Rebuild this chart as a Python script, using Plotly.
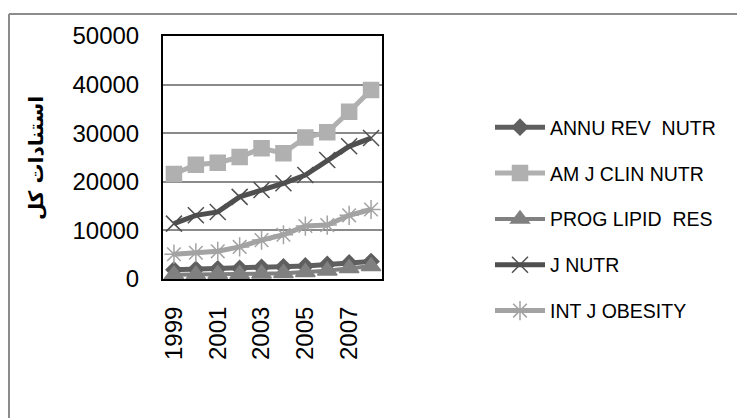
import plotly.graph_objects as go

years = [1999, 2000, 2001, 2002, 2003, 2004, 2005, 2006, 2007, 2008]
annu_rev_nutr = [1900, 2000, 2100, 2200, 2400, 2500, 2700, 3000, 3300, 3600]
am_j_clin_nutr = [21600, 23500, 23900, 25100, 26900, 25900, 29100, 30200, 34400, 38900]
prog_lipid_res = [900, 900, 1000, 1000, 1100, 1200, 1400, 1700, 2200, 2600]
j_nutr = [11400, 13100, 13800, 16900, 18300, 19700, 21400, 24500, 27300, 29000]
int_j_obesity = [5100, 5400, 5700, 6600, 8000, 9100, 10900, 11100, 13100, 14300]

series_names = ["ANNU REV  NUTR", "AM J CLIN NUTR", "PROG LIPID  RES", "J NUTR", "INT J OBESITY"]
y_ticks = [0, 10000, 20000, 30000, 40000, 50000]
x_ticks = [1999, 2001, 2003, 2005, 2007]
y_title = "استنادات کل"

W, H = 745, 418
L, R, T, B = 155, 374, 28, 271
pw, ph = R - L, B - T

def px_x(p):
    return (p - L) / pw

def px_y(p):
    return (B - p) / ph

styles = [
    dict(color="#5f5f5f", symbol="diamond", size=12, width=5),
    dict(color="#b0b0b0", symbol="square", size=15, width=5),
    dict(color="#808080", symbol="triangle-up", size=17, width=4),
    dict(color="#4f4f4f", symbol="x-thin-open", size=16, width=5),
    dict(color="#a3a3a3", symbol="asterisk-open", size=16, width=5),
]
data = [annu_rev_nutr, am_j_clin_nutr, prog_lipid_res, j_nutr, int_j_obesity]

fig = go.Figure()
for name, vals, st in zip(series_names, data, styles):
    fig.add_trace(go.Scatter(
        x=years, y=vals, name=name, mode="lines+markers",
        legendgroup=name,
        line=dict(color=st["color"], width=st["width"]),
        marker=dict(symbol=st["symbol"], size=st["size"], color=st["color"],
                    line=dict(color=st["color"], width=1.5)),
    ))

fig.update_layout(
    width=W, height=H,
    margin=dict(l=L, r=W - R, t=T, b=H - B, pad=0),
    paper_bgcolor="white", plot_bgcolor="white",
    font=dict(family="Liberation Sans, Arial", size=24, color="black"),
    showlegend=True,
    legend=dict(x=px_x(482), y=px_y(100), xanchor="left", yanchor="top",
                traceorder="grouped", tracegroupgap=17.5,
                font=dict(family="Liberation Sans, Arial", size=19.5, color="black"),
                itemwidth=50, bgcolor="rgba(0,0,0,0)"),
    xaxis=dict(range=[1998.5, 2008.5], tickmode="array", tickvals=x_ticks,
               ticktext=[str(v) for v in x_ticks], tickangle=-90, ticks="",
               showgrid=False, zeroline=False, showline=True, linecolor="black",
               linewidth=2, mirror=True, ticklabelstandoff=16,
               tickfont=dict(size=24)),
    yaxis=dict(range=[0, 50000], tickmode="array", tickvals=y_ticks,
               ticktext=[str(v) for v in y_ticks], ticks="",
               showgrid=True, gridcolor="#8a8a8a", gridwidth=1.5, zeroline=False,
               showline=True, linecolor="black", linewidth=2, mirror=True,
               ticklabelstandoff=17, tickfont=dict(size=24)),
)

fig.add_annotation(
    xref="paper", yref="paper", x=px_x(28), y=px_y(150),
    text="<b>" + y_title + "</b>", textangle=-90, showarrow=False,
    font=dict(family="DejaVu Sans", size=20, color="black"),
    xanchor="center", yanchor="middle",
)

border = dict(color="#8c8c8c", width=2)
fig.add_shape(type="line", xref="paper", yref="paper",
              x0=px_x(1), y0=px_y(6), x1=px_x(1), y1=px_y(420), line=border)
fig.add_shape(type="line", xref="paper", yref="paper",
              x0=px_x(1), y0=px_y(6), x1=px_x(747), y1=px_y(6), line=border)

fig.write_html("out.html")
